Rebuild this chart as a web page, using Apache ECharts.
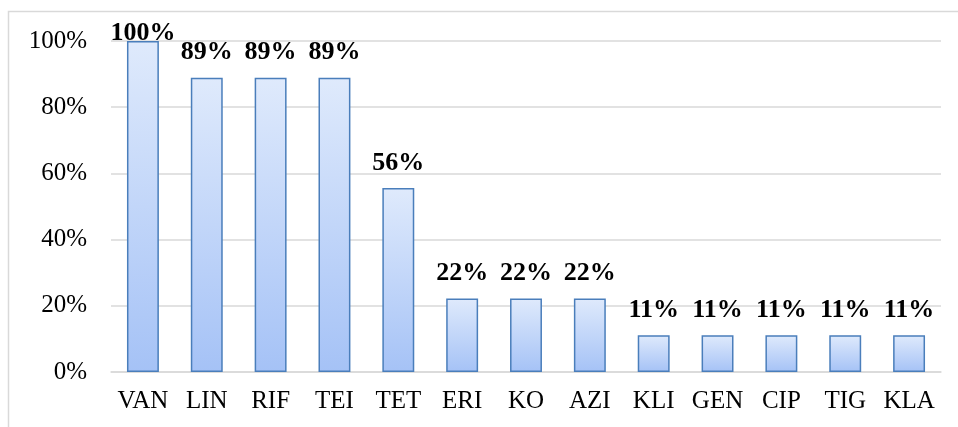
<!DOCTYPE html>
<html>
<head>
<meta charset="utf-8">
<script src="https://cdn.jsdelivr.net/npm/echarts@6/dist/echarts.min.js"></script>
<style>
  html, body { margin: 0; padding: 0; background: #fff; }
</style>
</head>
<body>
<div id="main" style="width: 958px;height:427px;"></div>
<script type="text/javascript">
    // 数据
    var categories = ['VAN', 'LIN', 'RIF', 'TEI', 'TET', 'ERI', 'KO', 'AZI', 'KLI', 'GEN', 'CIP', 'TIG', 'KLA'];
    var percents = [100, 88.9, 88.9, 88.9, 55.6, 22.2, 22.2, 22.2, 11.1, 11.1, 11.1, 11.1, 11.1];
    var yTicks = [0, 20, 40, 60, 80, 100];

    var myChart = echarts.init(document.getElementById('main'));
    var font = '"Liberation Serif", "Times New Roman", serif';
    var yMax = yTicks[yTicks.length - 1];

    // 顶格的标签往下压一点（原图被裁在绘图区内）
    var barData = percents.map(function (v) {
        if (v >= yMax) {
            return { value: v, label: { distance: -5 } };
        }
        return v;
    });

    var option = {
        backgroundColor: '#fff',
        animation: false,
        graphic: [{
            type: 'rect',
            shape: { x: 8.5, y: 11.5, width: 1000, height: 500 },
            style: { fill: 'none', stroke: '#d9d9d9', lineWidth: 1.5 },
            silent: true
        }],
        grid: { left: 111, right: 17, top: 41, bottom: 55 },
        xAxis: {
            type: 'category',
            data: categories,
            axisTick: { show: false },
            axisLine: { lineStyle: { color: '#d9d9d9', width: 1.5 } },
            axisLabel: {
                interval: 0,
                hideOverlap: false,
                color: '#000', fontFamily: font, fontSize: 25, margin: 17
            }
        },
        yAxis: {
            type: 'value',
            min: yTicks[0],
            max: yMax,
            interval: 20,
            axisLine: { show: false },
            axisTick: { show: false },
            splitLine: { lineStyle: { color: '#d9d9d9', width: 1.5 } },
            axisLabel: {
                color: '#000', fontFamily: font, fontSize: 25, margin: 24,
                formatter: '{value}%'
            }
        },
        series: [{
            type: 'bar',
            data: barData,
            barWidth: '50%',
            itemStyle: {
                color: new echarts.graphic.LinearGradient(0, 0, 0, 1, [
                    { offset: 0, color: '#dfeafc' },
                    { offset: 1, color: '#a5c2f6' }
                ]),
                borderColor: '#4a7ebb',
                borderWidth: 1.5
            },
            label: {
                show: true,
                position: 'top',
                distance: 12,
                color: '#000',
                fontFamily: font,
                fontSize: 26,
                fontWeight: 'bold',
                formatter: function (p) { return Math.round(p.value) + '%'; }
            }
        }]
    };

    myChart.setOption(option);
</script>
</body>
</html>
